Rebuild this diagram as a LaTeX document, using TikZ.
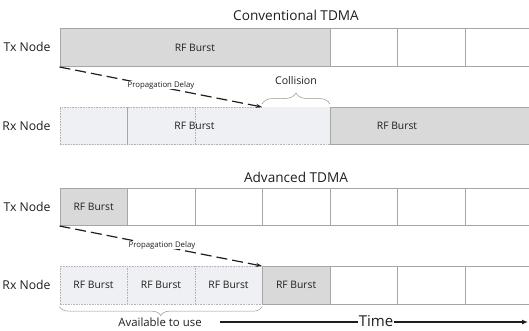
\documentclass[tikz,border=0pt]{standalone}
\usepackage{fontspec}
\setmainfont{Open Sans}
\usetikzlibrary{decorations.pathreplacing,arrows.meta}
\definecolor{burstfill}{HTML}{D9D9D9}
\definecolor{edge}{HTML}{A6A6A6}
\definecolor{ghostfill}{HTML}{EEF0F3}
\definecolor{ghostedge}{HTML}{B4B4B4}
\definecolor{ink}{HTML}{1E1E1E}
\begin{document}
\begin{tikzpicture}[x=1pt,y=-1pt,
  cell/.style={rectangle, anchor=north west, inner sep=0pt, font=\fontsize{10.3}{12}\selectfont, text=ink},
  burst/.style={cell, fill=burstfill, draw=edge, line width=0.7pt},
  slot/.style={cell, fill=white, draw=edge, line width=0.7pt},
  ghost/.style={cell, fill=ghostfill, draw=ghostedge, densely dotted, line width=0.6pt},
  rowlabel/.style={anchor=east, font=\fontsize{12.2}{14}\selectfont, text=ink},
  heading/.style={font=\fontsize{13.6}{16}\selectfont, text=ink},
  delay/.style={-{Stealth[length=6pt,width=4pt]}, line width=1.2pt, dash pattern=on 11pt off 5pt, ink},
  delaytext/.style={fill=white, inner sep=0.5pt, font=\fontsize{7.8}{9}\selectfont, text=ink},
  bracelike/.style={draw=edge!90!black, line width=0.5pt, decorate},
]
\useasboundingbox (0,0) rectangle (529,330);

% ---------------- Conventional TDMA ----------------
\node[heading] (t1) at (296,15) {Conventional TDMA};

\node[rowlabel] (tx1) at (54,47.3) {Tx Node};
\node[burst, minimum width=270pt, minimum height=38pt] (tx1b) at (59.5,28.3) {RF Burst};
\node[slot, minimum width=67.5pt, minimum height=38pt] (tx1s1) at (329.5,28.3) {};
\node[slot, minimum width=67.5pt, minimum height=38pt] (tx1s2) at (397,28.3) {};
\node[slot, minimum width=67.5pt, minimum height=38pt] (tx1s3) at (464.5,28.3) {};

\node[rowlabel] (rx1) at (54,125.7) {Rx Node};
\node[ghost, minimum width=67.5pt, minimum height=37.3pt] (rx1g1) at (59.5,107) {};
\node[ghost, minimum width=67.5pt, minimum height=37.3pt] (rx1g2) at (127,107) {};
\node[ghost, minimum width=67.5pt, minimum height=37.3pt] (rx1g3) at (194.5,107) {};
\fill[ghostfill] (262,107) rectangle (329.5,144.3);
\node[cell, minimum width=67.5pt, minimum height=37.3pt] (coll) at (262,107) {};
\draw[ghostedge, densely dotted, line width=0.6pt] (coll.south west) -- (coll.south east);
\draw[edge, line width=0.6pt] (rx1g1.north east) -- (rx1g1.south east);
\node[cell, anchor=center] (rx1t) at (194.5,125.7) {RF Burst};
\node[burst, minimum width=202.5pt, minimum height=37.3pt] (rx1b) at (329.5,107) {};
\node[cell, anchor=center] (rx1bt) at (397,125.7) {RF Burst};

\draw[delay] (tx1b.south west) -- (coll.north west);
\node[delaytext] (pd1) at (161,85) {Propagation Delay};

\path (coll.north west) ++(0,-3) coordinate (cb1);
\path (coll.north east) ++(0,-3) coordinate (cb2);
\draw[bracelike, decoration={brace, amplitude=11pt}] (cb1) -- (cb2);
\node[font=\fontsize{10.6}{12}\selectfont, text=ink] (colltext) at (296,80.7) {Collision};

% ---------------- Advanced TDMA ----------------
\node[heading] (t2) at (296,177.5) {Advanced TDMA};

\node[rowlabel] (tx2) at (54,206.5) {Tx Node};
\node[burst, minimum width=67.5pt, minimum height=37.6pt] (tx2b) at (59.5,187.7) {RF Burst};
\foreach \i/\x in {1/127,2/194.5,3/262,4/329.5,5/397,6/464.5}
  \node[slot, minimum width=67.5pt, minimum height=37.6pt] (tx2s\i) at (\x,187.7) {};

\node[rowlabel] (rx2) at (54,285) {Rx Node};
\foreach \i/\x in {1/59.5,2/127,3/194.5}
  \node[ghost, minimum width=67.5pt, minimum height=38pt] (rx2g\i) at (\x,266) {RF Burst};
\node[burst, minimum width=67.5pt, minimum height=38pt] (rx2b) at (262,266) {RF Burst};
\foreach \i/\x in {1/329.5,2/397,3/464.5}
  \node[slot, minimum width=67.5pt, minimum height=38pt] (rx2s\i) at (\x,266) {};

\draw[delay] (tx2b.south west) -- (rx2b.north west);
\node[delaytext] (pd2) at (162,245) {Propagation Delay};

\path (rx2b.south west) ++(0,2) coordinate (ab1);
\path (rx2g1.south west) ++(0,2) coordinate (ab2);
\draw[bracelike, decoration={brace, amplitude=9pt}] (ab1) -- (ab2);
\node[font=\fontsize{11.4}{13}\selectfont, text=ink] (avail) at (160,322.5) {Available to use};

% time axis
\coordinate (ta) at (220,322);
\coordinate (tb) at (528,322);
\draw[line width=1.3pt, ink, -{Latex[length=6pt,width=5pt]}] (ta) -- (tb);
\node[fill=white, inner sep=1pt, font=\fontsize{15}{17}\selectfont, text=ink] (time) at (376,321) {Time};
\end{tikzpicture}
\end{document}
